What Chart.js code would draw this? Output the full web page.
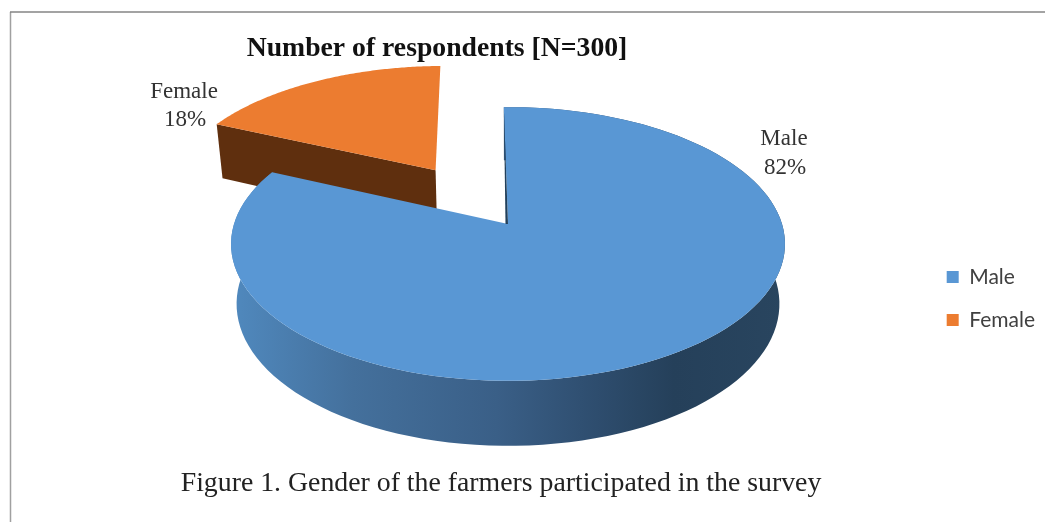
<!DOCTYPE html>
<html>
<head>
<meta charset="utf-8">
<title>Gender of the farmers</title>
<script src="https://cdn.jsdelivr.net/npm/chart.js@4"></script>
<style>
  html, body { margin: 0; padding: 0; background: #fff; }
  canvas { display: block; }
</style>
</head>
<body>
<canvas id="genderChart" width="1045" height="522"></canvas>
<script>
const categories = ["Male", "Female"];
const shares = [82, 18];
const sliceColors = ["#5997D4", "#EC7C30"];
const titleText = "Number of respondents [N=300]";
const captionText = "Figure 1. Gender of the farmers participated in the survey";

// Tilted disc: centre of the outline, half sizes, and how far the hub drops toward the back
const disc = { x: 508, y: 245, rx: 274, ry: 137, hub: -21, tilt: -0.146 };
const serif = '"Liberation Serif", serif';

// unit disc coordinates -> page, with the near side larger than the far side
function project(u, v) {
  const d = 1 + disc.tilt * v;
  return { x: disc.x + disc.rx * u / d, y: disc.y + (disc.ry * v + disc.hub) / d };
}

// same point on the underside of the disc
function projectLow(u, v) {
  const p = project(u, v);
  return { x: disc.x + (p.x - disc.x) * 0.98, y: p.y + 59 + 6 * v };
}

function slicePath(arc, fn) {
  const pull = (arc.options.offset || 0) / 100;
  const mid = (arc.startAngle + arc.endAngle) / 2;
  const ou = Math.cos(mid) * pull;
  const ov = Math.sin(mid) * pull;
  const rim = [];
  const steps = 120;
  for (let i = 0; i <= steps; i++) {
    const a = arc.startAngle + (arc.endAngle - arc.startAngle) * i / steps;
    rim.push(fn(ou + Math.cos(a), ov + Math.sin(a)));
  }
  return { hub: fn(ou, ov), rim: rim };
}

function fillPoly(ctx, pts, color) {
  ctx.beginPath();
  pts.forEach((p, i) => (i ? ctx.lineTo(p.x, p.y) : ctx.moveTo(p.x, p.y)));
  ctx.closePath();
  ctx.fillStyle = color;
  ctx.fill();
}

function drawText(ctx, text, x, y, font, color) {
  ctx.font = font;
  ctx.fillStyle = color;
  ctx.textAlign = "center";
  ctx.textBaseline = "alphabetic";
  ctx.fillText(text, x, y);
}

const tiltedPie = {
  id: "tiltedPie",
  beforeDraw(chart) {
    const ctx = chart.ctx;
    ctx.save();
    ctx.lineWidth = 1.5;
    ctx.strokeStyle = "#a0a0a0";
    ctx.beginPath();
    ctx.moveTo(10.5, 522);
    ctx.lineTo(10.5, 12);
    ctx.stroke();
    ctx.strokeStyle = "#858585";
    ctx.beginPath();
    ctx.moveTo(10, 12);
    ctx.lineTo(1045, 12);
    ctx.stroke();
    ctx.restore();
  },
  // the flat arcs are replaced by the tilted ones below
  beforeDatasetsDraw(chart) {
    const ctx = chart.ctx;
    const arcs = chart.getDatasetMeta(0).data;
    const male = arcs[0];
    const female = arcs[1];
    ctx.save();

    // pulled out slice: cut face first, then its top
    const fTop = slicePath(female, project);
    const fLow = slicePath(female, projectLow);
    fillPoly(ctx, [fTop.rim[0], fTop.hub, fLow.hub, fLow.rim[0]], "#5F2F0E");
    fillPoly(ctx, [fTop.hub].concat(fTop.rim), sliceColors[1]);

    // rim of the big slice with its shading
    const mTop = slicePath(male, project);
    const mLow = slicePath(male, projectLow);
    const shade = ctx.createLinearGradient(231, 0, 785, 0);
    shade.addColorStop(0, "#5089BE");
    shade.addColorStop(0.22, "#44709C");
    shade.addColorStop(0.48, "#3A5F87");
    shade.addColorStop(0.66, "#2E4D6E");
    shade.addColorStop(0.8, "#25405A");
    shade.addColorStop(1, "#29455F");
    fillPoly(ctx, mTop.rim.concat(mLow.rim.slice().reverse()), shade);
    fillPoly(ctx, [mTop.hub].concat(mTop.rim), sliceColors[0]);

    // sliver of the cut wall along the straight edge
    fillPoly(ctx, [mTop.rim[0], mTop.hub, { x: mTop.hub.x - 2.5, y: mTop.hub.y }], "#21405C");

    ctx.restore();
    return false;
  },
  afterDraw(chart) {
    const ctx = chart.ctx;
    ctx.save();
    drawText(ctx, titleText, 437, 56, "bold 27.7px " + serif, "#111");
    drawText(ctx, categories[0], 784, 145, "23px " + serif, "#333");
    drawText(ctx, shares[0] + "%", 785, 174, "23px " + serif, "#333");
    drawText(ctx, categories[1], 184, 98, "23px " + serif, "#333");
    drawText(ctx, shares[1] + "%", 185, 126, "23px " + serif, "#333");
    drawText(ctx, captionText, 501, 491, "27.8px " + serif, "#222");
    ctx.restore();
  }
};

new Chart(document.getElementById("genderChart"), {
  type: "pie",
  data: {
    labels: categories,
    datasets: [{
      data: shares,
      backgroundColor: sliceColors,
      borderWidth: 0,
      offset: [0, 51]
    }]
  },
  options: {
    responsive: false,
    animation: false,
    rotation: -1,
    layout: { padding: { top: 75, right: 0 } },
    plugins: {
      legend: {
        position: "right",
        labels: {
          boxWidth: 12,
          boxHeight: 12,
          padding: 22,
          color: "#404040",
          font: { family: 'Lato, sans-serif', size: 21 }
        }
      },
      tooltip: { enabled: false }
    }
  },
  plugins: [tiltedPie]
});
</script>
</body>
</html>
